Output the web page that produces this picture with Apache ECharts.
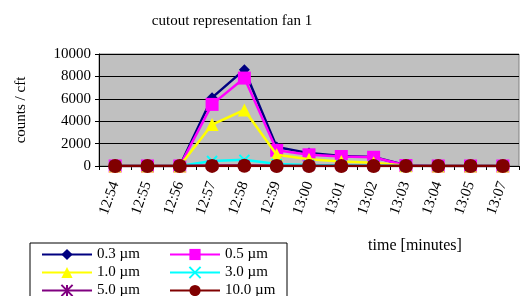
<!DOCTYPE html>
<html>
<head>
<meta charset="utf-8">
<script src="https://cdn.jsdelivr.net/npm/echarts@6/dist/echarts.min.js"></script>
<style>
  html, body { margin: 0; padding: 0; background: #fff; }
  #chart { width: 527px; height: 296px; }
</style>
</head>
<body>
<div id="chart"></div>
<script>
// 数据
const times = ['12:54', '12:55', '12:56', '12:57', '12:58', '12:59', '13:00', '13:01', '13:02', '13:03', '13:04', '13:05', '13:07']
const yTicks = [0, 2000, 4000, 6000, 8000, 10000]
const sizes = ['0.3 µm', '0.5 µm', '1.0 µm', '3.0 µm', '5.0 µm', '10.0 µm']
const p03 = [0, 0, 0, 6100, 8600, 1700, 1150, 900, 800, 60, 0, 0, 0]
const p05 = [0, 0, 0, 5500, 7850, 1400, 1000, 850, 780, 40, 0, 0, 0]
const p10 = [0, 0, 0, 3700, 5000, 1000, 600, 400, 300, 20, 0, 0, 0]
const p30 = [0, 0, 0, 450, 550, 180, 100, 60, 40, 0, 0, 0, 0]
const p50 = [0, 0, 0, 40, 50, 20, 10, 10, 5, 0, 0, 0, 0]
const p100 = [0, 0, 0, 10, 15, 5, 0, 0, 0, 0, 0, 0, 0]

const colors = ['#000080', '#ff00ff', '#ffff00', '#00ffff', '#800080', '#800000']
const symbols = [
    'diamond',
    'rect',
    'triangle',
    'path://M0,0L10,10M10,0L0,10',
    'path://M0,0L10,10M10,0L0,10M5,0L5,10',
    'circle'
]
const symbolSizes = [11, 13, 13, 10, 10, 14]
const allData = [p03, p05, p10, p30, p50, p100]
const font = 'Liberation Serif'

const chart = echarts.init(document.getElementById('chart'))

const series = allData.map((d, i) => {
    const stroked = i === 3 || i === 4
    return {
        name: sizes[i],
        type: 'line',
        data: d,
        symbol: symbols[i],
        symbolSize: symbolSizes[i],
        showAllSymbol: true,
        lineStyle: { color: colors[i], width: 2.5 },
        itemStyle: stroked
            ? { color: colors[i], borderColor: colors[i], borderWidth: 2 }
            : { color: colors[i] },
        emphasis: { disabled: true },
        z: 2 + i
    }
})

const option = {
    animation: false,
    backgroundColor: '#fff',
    textStyle: { fontFamily: font },
    title: {
        text: 'cutout representation fan 1',
        left: 227,
        textAlign: 'center',
        top: 9,
        textStyle: { fontFamily: font, fontSize: 15, fontWeight: 'normal', color: '#000' }
    },
    legend: {
        left: 30,
        top: 243,
        width: 270,
        orient: 'horizontal',
        itemWidth: 50,
        itemHeight: 14,
        itemGap: 3,
        padding: [4, 4, 5, 11],
        borderColor: '#000',
        borderWidth: 1,
        data: sizes,
        // 左列文字定宽，右列短一些，让边框收窄
        formatter: name => (sizes.indexOf(name) % 2 === 0 ? '{a|' : '{b|') + name + '}',
        textStyle: {
            fontFamily: font,
            fontSize: 15,
            color: '#000',
            rich: {
                a: { width: 69, height: 14, lineHeight: 14, fontFamily: font, fontSize: 15 },
                b: { width: 58, height: 14, lineHeight: 14, fontFamily: font, fontSize: 15 }
            }
        }
    },
    grid: {
        left: 99,
        top: 54,
        width: 420,
        height: 112,
        outerBoundsMode: 'none',
        containLabel: false,
        show: true,
        backgroundColor: '#c0c0c0',
        borderColor: '#808080',
        borderWidth: 1
    },
    xAxis: {
        type: 'category',
        data: times,
        boundaryGap: true,
        name: 'time [minutes]',
        nameLocation: 'middle',
        nameGap: 72,
        nameTextStyle: { fontFamily: font, fontSize: 16, color: '#000', padding: [0, 0, 0, 212] },
        axisLine: { lineStyle: { color: '#000', width: 1 } },
        axisTick: { show: true, inside: false, length: 4, lineStyle: { color: '#000' } },
        axisLabel: {
            rotate: 70,
            fontFamily: font,
            fontSize: 15,
            color: '#000',
            margin: 16,
            interval: 0
        },
        splitLine: { show: false }
    },
    yAxis: {
        type: 'value',
        min: yTicks[0],
        max: yTicks[yTicks.length - 1],
        interval: 2000,
        name: 'counts / cft',
        nameLocation: 'middle',
        nameGap: 70,
        nameTextStyle: { fontFamily: font, fontSize: 15, color: '#000' },
        axisLine: { show: true, lineStyle: { color: '#000' } },
        axisTick: { show: true, length: 4, lineStyle: { color: '#000' } },
        axisLabel: {
            fontFamily: font,
            fontSize: 15,
            color: '#000',
            margin: 8,
            showMinLabel: true,
            showMaxLabel: true,
            formatter: v => String(v)
        },
        splitLine: { show: true, lineStyle: { color: '#000', width: 1 } }
    },
    series: series
}

chart.setOption(option)
</script>
</body>
</html>
